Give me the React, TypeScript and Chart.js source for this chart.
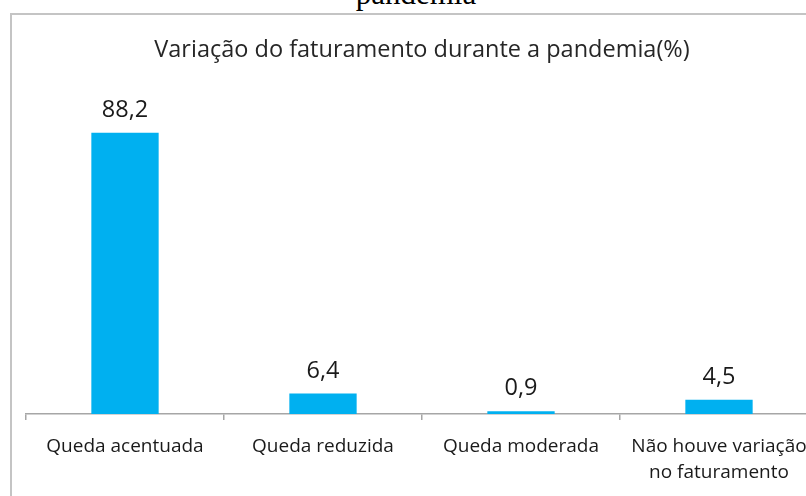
import React, { useEffect, useRef } from "react";
import { Chart, registerables } from "chart.js";

Chart.register(...registerables);

const categories: string[][] = [
  ["Queda acentuada"],
  ["Queda reduzida"],
  ["Queda moderada"],
  ["Não houve variação", "no faturamento"],
];
const values: number[] = [88.2, 6.4, 0.9, 4.5];
const valueLabels: string[] = ["88,2", "6,4", "0,9", "4,5"];
const chartTitle = "Variação do faturamento durante a pandemia(%)";
const captionFragment = "pandemia";

const FONT = "'Open Sans', 'DejaVu Sans', sans-serif";

const valueLabelPlugin = {
  id: "valueLabels",
  afterDatasetsDraw(chart: any) {
    const ctx = chart.ctx;
    const meta = chart.getDatasetMeta(0);
    ctx.save();
    ctx.font = `23.5px ${FONT}`;
    ctx.fillStyle = "#1a1a1a";
    ctx.textAlign = "center";
    ctx.textBaseline = "alphabetic";
    meta.data.forEach((el: any, i: number) => {
      ctx.fillText(valueLabels[i], el.x, el.y - 16);
    });
    ctx.restore();
  },
};

export default function App() {
  const canvasRef = useRef<HTMLCanvasElement | null>(null);

  useEffect(() => {
    if (!canvasRef.current) return;
    const chart = new Chart(canvasRef.current, {
      type: "bar",
      data: {
        labels: categories,
        datasets: [
          {
            data: values,
            backgroundColor: "#00B0F0",
            barPercentage: 1,
            categoryPercentage: 0.34,
          },
        ],
      },
      options: {
        responsive: false,
        animation: false,
        devicePixelRatio: 1,
        layout: { padding: { left: 26, right: 12, top: 0, bottom: 0 } },
        plugins: {
          legend: { display: false },
          tooltip: { enabled: false },
          title: {
            display: true,
            text: chartTitle,
            color: "#262626",
            font: { family: FONT, size: 23.5, weight: "normal", lineHeight: 1.2 },
            padding: { top: 36, bottom: 31 },
          },
        },
        scales: {
          x: {
            grid: {
              display: true,
              offset: true,
              drawOnChartArea: false,
              drawTicks: true,
              tickLength: 6,
              color: "#a6a6a6",
              lineWidth: 1.5,
            },
            border: { display: true, color: "#a6a6a6", width: 1.5 },
            ticks: {
              color: "#1a1a1a",
              font: { family: FONT, size: 19, lineHeight: 1.35 },
              padding: 14,
              maxRotation: 0,
              minRotation: 0,
              autoSkip: false,
            },
            afterFit: (s: any) => {
              s.height = 82;
            },
          },
          y: { display: false, min: 0, max: 100 },
        },
      },
      plugins: [valueLabelPlugin],
    });
    return () => chart.destroy();
  }, []);

  return (
    <div
      style={{
        position: "fixed",
        left: 0,
        top: 0,
        width: 806,
        height: 496,
        overflow: "hidden",
        background: "#ffffff",
      }}
    >
      <div
        style={{
          position: "absolute",
          left: 416,
          top: -22,
          transform: "translateX(-50%)",
          fontFamily: "'Liberation Serif', serif",
          fontSize: 31,
          lineHeight: "31px",
          whiteSpace: "nowrap",
          color: "#000",
        }}
      >
        {captionFragment}
      </div>
      <div
        style={{
          position: "absolute",
          left: 10,
          top: 13,
          width: 900,
          height: 600,
          borderLeft: "2px solid #c4c4c4",
          borderTop: "2px solid #c4c4c4",
        }}
      />
      <canvas
        ref={canvasRef}
        width={830}
        height={496}
        style={{ position: "absolute", left: 0, top: 0, width: 830, height: 496 }}
      />
    </div>
  );
}
